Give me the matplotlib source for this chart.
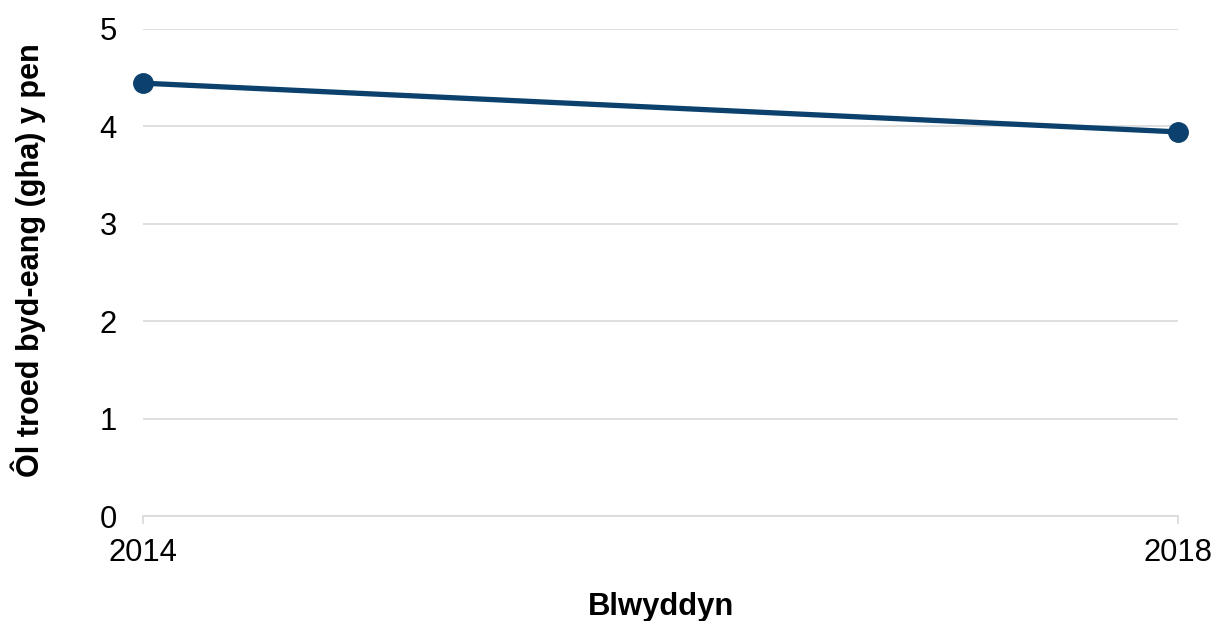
import matplotlib
matplotlib.use("Agg")
import matplotlib.pyplot as plt

# data
years = [2014, 2018]
footprint = [4.44, 3.94]
y_ticks = [0, 1, 2, 3, 4, 5]

plt.rcParams['font.family'] = ['Liberation Sans', 'DejaVu Sans']

fig = plt.figure(figsize=(12.22, 6.21), dpi=100)
ax = fig.add_axes([0.1173, 0.169, 0.8466, 0.785])

navy = '#0b416c'
grid = '#d9d9d9'

ax.plot(years, footprint, color=navy, lw=3.8, marker='o', ms=14,
        clip_on=False, zorder=3)

ax.set_xlim(2014, 2018)
ax.set_ylim(0, 5)
ax.set_yticks(y_ticks)
ax.set_xticks(years)
ax.set_xticklabels([str(y) for y in years])

ax.grid(axis='y', color=grid, lw=1.2)
ax.set_axisbelow(True)
for s in ['top', 'right', 'left']:
    ax.spines[s].set_visible(False)
ax.spines['bottom'].set_color(grid)
ax.spines['bottom'].set_linewidth(1.2)

ax.tick_params(axis='y', length=0, pad=19, labelsize=22.3)
ax.tick_params(axis='x', length=6, width=1.2, color=grid, pad=10, labelsize=22.3)

ax.set_xlabel('Blwyddyn', fontsize=22.3, fontweight='bold', labelpad=17)
ax.set_ylabel('Ôl troed byd-eang (gha) y pen', fontsize=22.1, fontweight='bold')
ax.yaxis.set_label_coords(-0.094, 0.525)

fig.savefig('out.png', dpi=100)
